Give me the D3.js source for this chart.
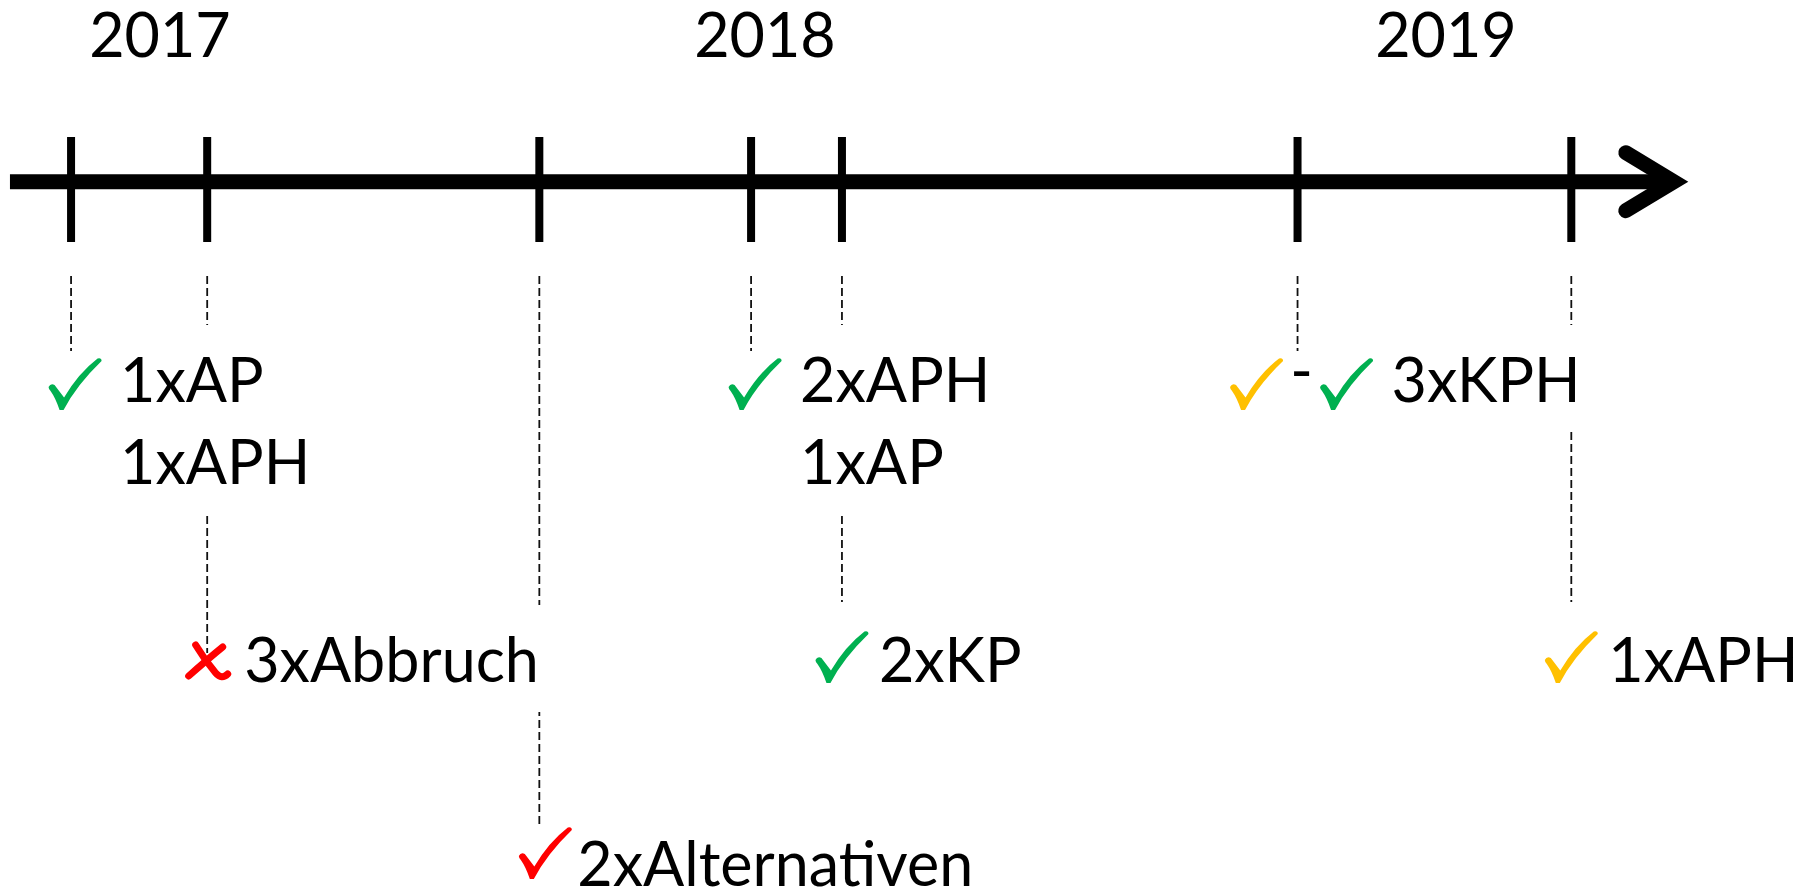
<!DOCTYPE html>
<html>
<head>
<meta charset="utf-8">
<script src="https://cdnjs.cloudflare.com/ajax/libs/d3/7.8.5/d3.min.js"></script>
<style>
  body { margin: 0; background: #fff; }
  #timeline text { font-family: Lato, "Open Sans", sans-serif; fill: #000; }
</style>
</head>
<body>
<div id="timeline"><svg></svg></div>
<script>
// timeline data (dates as decimal years)
var years = ["2017", "2018", "2019"];
var yearValues = [2017, 2018, 2019];
var eventDates = [2016.853, 2017.078, 2017.627, 2017.977, 2018.113, 2018.782, 2019.184];
var eventLabels = [["1xAP", "1xAPH"], ["3xAbbruch"], ["2xAlternativen"], ["2xAPH", "1xAP"], ["2xKP"], ["3xKPH"], ["1xAPH"]];
var eventMarks = [["ok"], ["fail"], ["alt"], ["ok"], ["ok"], ["partial", "-", "ok"], ["partial"]];
var eventLevels = [0, 1, 2, 0, 1, 0, 1];
var axisStart = 2016.752, axisEnd = 2019.358;

var app = (function(parent, d3){

  var width = 1794, height = 893;

  var markColor = { ok: "#00B050", partial: "#FFC000", alt: "#FF0000", fail: "#FF0000" };
  var markWidth = { ok: 54, partial: 54, alt: 54, fail: 54, "-": 16 };

  // one entry per label row below the axis
  var levels = [
    { baseline: 402, markBottom: 410, markShift: 4, textGap: 18, connectorEnd: 351, under: true },
    { baseline: 682, markBottom: 683, markShift: 0, textGap: 10, connectorEnd: 602, under: false },
    { baseline: 886, markBottom: 879, markShift: 6, textGap: 5,  connectorEnd: 828, under: false }
  ];
  var lineGap = 82, fontSize = 61, markSpacing = 10;

  var checkPath = "M0,29 Q2,25 6,27 L15.5,39.5 Q30,15 49,0.5 Q53,-0.5 53,3 Q28,27 15,52 L11,52 Q7,40 2,33 Q0,31 0,29 Z";
  var crossPaths = ["M10,2 Q19,17 30,30 Q36,37 42,31", "M37,4 Q21,17 3,33"];

  parent.timeline = {

    init : function() {

      var svg = d3.select("#timeline svg")
          .attr("width", width)
          .attr("height", height);

      var x = d3.scaleLinear()
          .domain(yearValues)
          .range([160, 765, 1446]);

      var axisY = 181.7;

      var events = eventDates.map(function(d, i) {
        return { date: d, lines: eventLabels[i], marks: eventMarks[i], level: eventLevels[i] };
      });

      // axis + arrow
      var tip = x(axisEnd) - 16;
      svg.append("line")
          .attr("x1", x(axisStart)).attr("x2", tip - 4)
          .attr("y1", axisY).attr("y2", axisY)
          .attr("stroke", "#000").attr("stroke-width", 15);

      svg.append("path")
          .attr("d", d3.line()([[tip - 48, axisY - 29], [tip, axisY], [tip - 48, axisY + 29]]))
          .attr("fill", "none").attr("stroke", "#000").attr("stroke-width", 15)
          .attr("stroke-linecap", "round").attr("stroke-linejoin", "miter");

      svg.selectAll(".tick")
          .data(events)
          .enter()
          .append("line")
          .attr("class", "tick")
          .attr("x1", function(d) { return x(d.date); })
          .attr("x2", function(d) { return x(d.date); })
          .attr("y1", 137).attr("y2", 242)
          .attr("stroke", "#000").attr("stroke-width", 8);

      svg.selectAll(".year")
          .data(years)
          .enter()
          .append("text")
          .attr("class", "year")
          .attr("x", function(d, i) { return x(yearValues[i]); })
          .attr("y", 57)
          .attr("text-anchor", "middle")
          .style("font-size", fontSize + "px")
          .text(function(d) { return d; });

      // layers, bottom to top
      var gConn = svg.append("g"),
          gUnder = svg.append("g"),
          gBox = svg.append("g"),
          gText = svg.append("g"),
          gOver = svg.append("g");

      gConn.selectAll("line")
          .data(events)
          .enter()
          .append("line")
          .attr("x1", function(d) { return x(d.date); })
          .attr("x2", function(d) { return x(d.date); })
          .attr("y1", 276)
          .attr("y2", function(d) {
            // the cross sits on its line, the checks stop short of it
            return d.marks[0] == "fail" ? levels[d.level].markBottom - 30 : levels[d.level].connectorEnd;
          })
          .attr("stroke", "#111").attr("stroke-width", 1.8)
          .attr("stroke-dasharray", "8,4");

      events.forEach(function(d) {
        var lv = levels[d.level];
        var ex = x(d.date);
        var groupW = d3.sum(d.marks, function(m) { return markWidth[m]; }) + markSpacing * (d.marks.length - 1);
        var left = ex + lv.markShift - groupW / 2;
        var g = lv.under ? gUnder : gOver;

        d.marks.forEach(function(m) {
          app.timeline.drawMark(g, m, left, lv.markBottom);
          left += markWidth[m] + markSpacing;
        });
        left -= markSpacing;

        var tx = left + lv.textGap;
        var t = gText.append("text")
            .attr("x", tx)
            .attr("y", lv.baseline)
            .style("font-size", fontSize + "px");
        t.selectAll("tspan")
            .data(d.lines)
            .enter()
            .append("tspan")
            .attr("x", tx)
            .attr("y", function(s, i) { return lv.baseline + i * lineGap; })
            .text(function(s) { return s; });

        var tw = t.node().getBBox().width;
        gBox.append("rect")
            .attr("x", tx - lv.textGap)
            .attr("y", lv.baseline - 77)
            .attr("width", tw + lv.textGap + 18)
            .attr("height", 77 + (d.lines.length - 1) * lineGap + 30)
            .attr("fill", "#fff");
      });
    },

    drawMark : function(g, type, left, bottom) {
      if (type == "-") {
        g.append("text")
            .attr("x", left + markWidth["-"] / 2)
            .attr("y", bottom - 18)
            .attr("text-anchor", "middle")
            .style("font-size", fontSize + "px")
            .text("-");
      } else if (type == "fail") {
        var gx = g.append("g")
            .attr("transform", "translate(" + (left + 5.5) + "," + (bottom - 40) + ")");
        gx.selectAll("path")
            .data(crossPaths)
            .enter()
            .append("path")
            .attr("d", function(p) { return p; })
            .attr("fill", "none")
            .attr("stroke", markColor.fail)
            .attr("stroke-width", 7)
            .attr("stroke-linecap", "round");
      } else {
        g.append("path")
            .attr("d", checkPath)
            .attr("transform", "translate(" + (left + 0.5) + "," + (bottom - 52) + ")")
            .attr("fill", markColor[type]);
      }
    }
  };

  return parent;

})(app || {}, d3);

app.timeline.init();
</script>
</body>
</html>
